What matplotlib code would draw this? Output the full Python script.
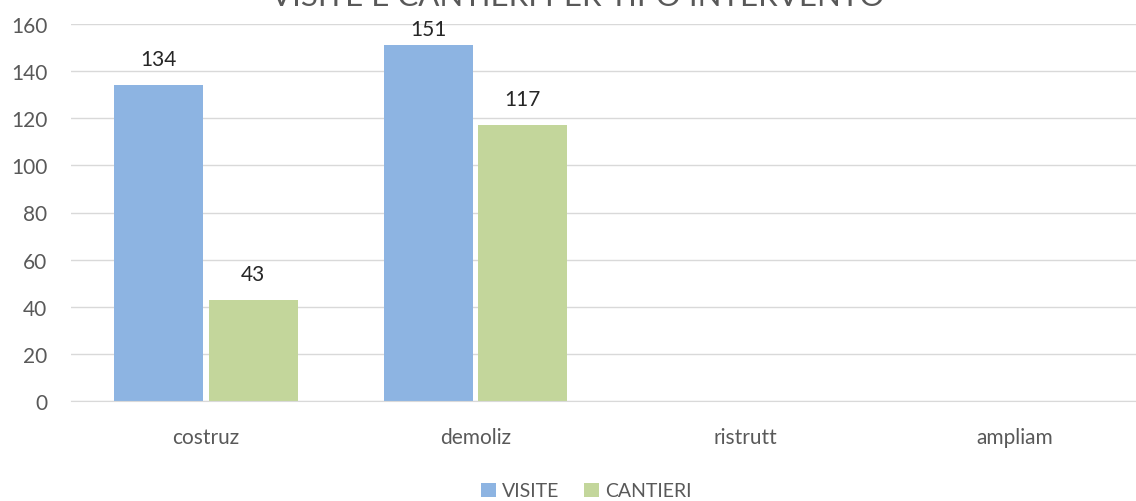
import matplotlib.pyplot as plt
import numpy as np

plt.rcParams["font.family"] = ["Lato", "DejaVu Sans"]

# dati
categorie = ["costruz", "demoliz", "ristrutt", "ampliam"]
visite = [134, 151, np.nan, np.nan]
cantieri = [43, 117, np.nan, np.nan]
y_ticks = [0, 20, 40, 60, 80, 100, 120, 140, 160]

col_visite = "#8DB4E2"
col_cantieri = "#C3D69B"
grigio = "#595959"

fig = plt.figure(figsize=(11.36, 5.02), dpi=100)
ax = fig.add_axes([71 / 1136, 1 - 402 / 502, (1150 - 71) / 1136, (402 - 25) / 502])

x = np.arange(len(categorie))
width = 0.33
b1 = ax.bar(x - 0.175, visite, width, color=col_visite, label="VISITE")
b2 = ax.bar(x + 0.175, cantieri, width, color=col_cantieri, label="CANTIERI")

# etichette dati sopra le barre (tenute dentro l'area del grafico)
for bars, vals in ((b1, visite), (b2, cantieri)):
    for rect, v in zip(bars, vals):
        if np.isnan(v):
            continue
        ax.text(rect.get_x() + rect.get_width() / 2, min(v + 8.5, 155.3), f"{v:.0f}",
                ha="center", va="baseline", fontsize=15, color="#262626")

ax.set_xlim(-0.5, 3.5)
ax.set_ylim(0, 160)
ax.set_yticks(y_ticks)
ax.set_xticks(x)
ax.set_xticklabels(categorie)
ax.tick_params(axis="y", length=0, pad=17, labelsize=15, labelcolor=grigio)
ax.tick_params(axis="x", length=0, pad=19, labelsize=15, labelcolor=grigio)
ax.grid(axis="y", color="#D9D9D9", linewidth=1)
ax.set_axisbelow(True)
for s in ("top", "right", "left"):
    ax.spines[s].set_visible(False)
ax.spines["bottom"].set_color("#D9D9D9")

# titolo tagliato in alto come nell'originale
fig.text(0.509, 1 - 6 / 502, "VISITE E CANTIERI PER TIPO INTERVENTO", ha="center",
         va="baseline", fontsize=22.5, color=grigio)

fig.legend(handles=[b1, b2], loc="center", bbox_to_anchor=(0.516, 0.02), ncol=2,
           frameon=False, fontsize=14, labelcolor=grigio, handlelength=0.75,
           handleheight=0.75, handletextpad=0.3, columnspacing=1.3)

fig.savefig("out.png", dpi=100)
